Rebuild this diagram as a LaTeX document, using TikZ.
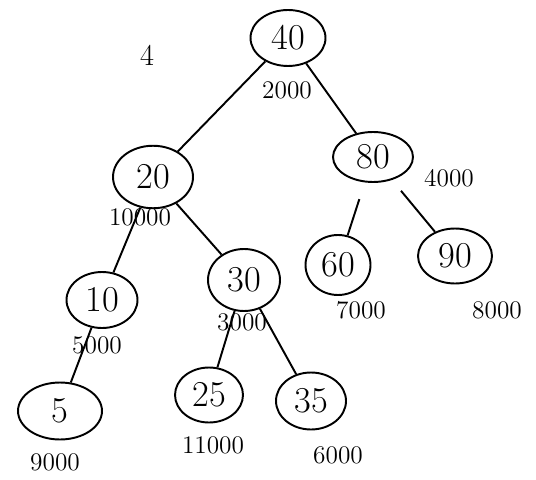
\documentclass[tikz,border=0pt]{standalone}
\usepackage{tikz}
\usetikzlibrary{shapes.geometric}
\tikzset{
  key/.style={ellipse, draw, line width=1.1pt, inner sep=0pt, font=\huge},
  cost/.style={font=\Large},
  edge/.style={line width=1.1pt},
}
\begin{document}
\begin{tikzpicture}[x=0.02cm, y=-0.02cm]
  \useasboundingbox (0,0) rectangle (536,479);
  % keys
  \node[key, minimum width=1.5cm, minimum height=1.12cm] (n40) at (288,38) {40};
  \node[key, minimum width=1.6cm, minimum height=1.25cm] (n20) at (153,177) {20};
  \node[key, minimum width=1.6cm, minimum height=1.0cm] (n80) at (373,157) {80};
  \node[key, minimum width=1.42cm, minimum height=1.12cm] (n10) at (102,300) {10};
  \node[key, minimum width=1.44cm, minimum height=1.24cm] (n30) at (244,280) {30};
  \node[key, minimum width=1.3cm, minimum height=1.2cm] (n60) at (338,265) {60};
  \node[key, minimum width=1.48cm, minimum height=1.1cm] (n90) at (455,256) {90};
  \node[key, minimum width=1.68cm, minimum height=1.14cm] (n5) at (60,411) {5};
  \node[key, minimum width=1.36cm, minimum height=1.1cm] (n25) at (209,395) {25};
  \node[key, minimum width=1.4cm, minimum height=1.14cm] (n35) at (311,401) {35};

  % costs
  \node[cost] (c40) at (287,90) {2000};
  \node[cost] (c20) at (140,217) {10000};
  \node[cost] (c80) at (449,178) {4000};
  \node[cost] (c10) at (97,345) {5000};
  \node[cost] (c30) at (242,322) {3000};
  \node[cost] (c60) at (361,310) {7000};
  \node[cost] (c90) at (497,310) {8000};
  \node[cost] (c5) at (55,462) {9000};
  \node[cost] (c25) at (213,445) {11000};
  \node[cost] (c35) at (338,455) {6000};

  \node[font=\LARGE] (mark) at (147,55) {4};

  % edges
  \draw[edge] (n40) -- (n20);
  \draw[edge] (n40) -- (n80);
  \draw[edge] (n20) -- (n10);
  \draw[edge] (n20) -- (n30);
  \draw[edge, shorten <=10pt] (n80) -- (n60);
  \draw[edge, shorten <=8pt] (n80) -- (n90);
  \draw[edge] (n10) -- (n5);
  \draw[edge] (n30) -- (n25);
  \draw[edge] (n30) -- (n35);
\end{tikzpicture}
\end{document}
